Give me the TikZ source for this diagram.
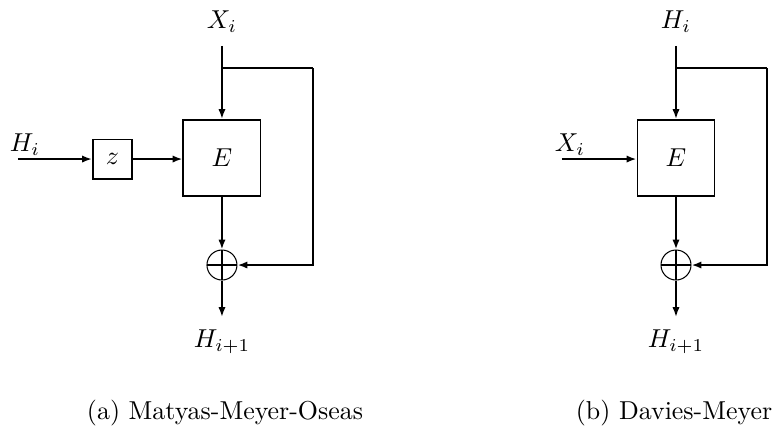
\documentclass[tikz,border=0pt]{standalone}
\usepackage{amsmath}
\usepackage{tikz}
\usetikzlibrary{arrows.meta,positioning,calc}

\begin{document}
\begin{tikzpicture}[x=1cm,y=1cm,
  wire/.style={line width=0.75pt},
  arr/.style={wire,-{Latex[length=3.8pt,width=2.8pt]}},
  block/.style={draw,line width=0.75pt,minimum width=1.045cm,minimum height=1.031cm,inner sep=0pt},
  delay/.style={draw,line width=0.75pt,minimum size=0.53cm,inner sep=0pt},
  xorop/.style={circle,draw,line width=0.4pt,minimum size=0.407cm,inner sep=0pt,
    path picture={\draw[line width=0.75pt] (path picture bounding box.north) -- (path picture bounding box.south)
      (path picture bounding box.west) -- (path picture bounding box.east);}},
  lab/.style={inner sep=0pt}]
\useasboundingbox (0,0) rectangle (10.53,-5.808);
% (a) Matyas-Meyer-Oseas
\node[lab] (xinA) at (3.012,-0.299) {$X_i$};
\node[block] (encA) at (3.012,-2.144) {$E$};
\node[delay] (zA) at (1.527,-2.158) {$z$};
\node[lab] (hinA) at (0.339,-1.968) {$H_i$};
\node[xorop] (xorA) at (3.012,-3.596) {};
\node[lab] (houtA) at (3.012,-4.64) {$H_{i+1}$};
\coordinate (topA) at (3.012,-0.624);
\coordinate (brA) at (3.012,-0.923);
\coordinate (cnA) at (4.247,-0.923);
\coordinate (srcA) at (0.244,-2.158);
\coordinate (endA) at (3.012,-4.302);
\draw[arr] (topA) -- (encA.north);
\draw[wire] (brA) -- (cnA);
\draw[arr] (cnA) |- (xorA.east);
\draw[arr] (srcA) -- (zA.west);
\draw[arr] (zA.east) -- (encA.west |- zA.east);
\draw[arr] (encA.south) -- (xorA.north);
\draw[arr] (xorA.south) -- (endA);
\node[lab] (capA) at (3.053,-5.604) {(a) Matyas-Meyer-Oseas};
% (b) Davies-Meyer
\node[lab] (hinB) at (9.173,-0.299) {$H_i$};
\node[block] (encB) at (9.173,-2.144) {$E$};
\node[lab] (xinB) at (7.735,-1.968) {$X_i$};
\node[xorop] (xorB) at (9.173,-3.596) {};
\node[lab] (houtB) at (9.173,-4.64) {$H_{i+1}$};
\coordinate (topB) at (9.173,-0.624);
\coordinate (brB) at (9.173,-0.923);
\coordinate (cnB) at (10.408,-0.923);
\coordinate (srcB) at (7.626,-2.158);
\coordinate (endB) at (9.173,-4.302);
\draw[arr] (topB) -- (encB.north);
\draw[wire] (brB) -- (cnB);
\draw[arr] (cnB) |- (xorB.east);
\draw[arr] (srcB) -- (encB.west |- srcB);
\draw[arr] (encB.south) -- (xorB.north);
\draw[arr] (xorB.south) -- (endB);
\node[lab] (capB) at (9.146,-5.604) {(b) Davies-Meyer};
\end{tikzpicture}
\end{document}
